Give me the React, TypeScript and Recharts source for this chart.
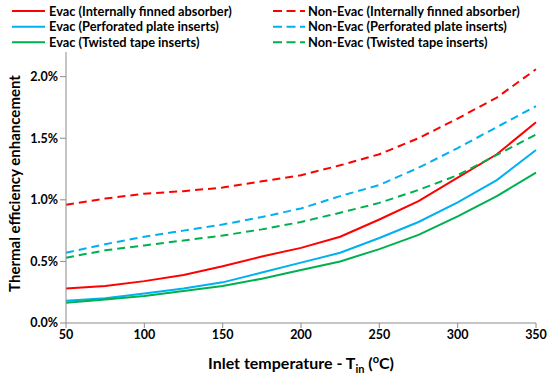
import React from 'react';
import { LineChart, Line, XAxis, YAxis, Label } from 'recharts';

const temperatures = [50, 75, 100, 125, 150, 175, 200, 225, 250, 275, 300, 325, 350];
const evacFinned = [0.28, 0.30, 0.34, 0.39, 0.46, 0.54, 0.61, 0.70, 0.84, 0.99, 1.18, 1.37, 1.63];
const evacPerforated = [0.18, 0.20, 0.24, 0.28, 0.33, 0.41, 0.49, 0.57, 0.69, 0.82, 0.98, 1.16, 1.405];
const evacTwisted = [0.165, 0.19, 0.22, 0.26, 0.30, 0.36, 0.43, 0.50, 0.60, 0.715, 0.865, 1.03, 1.22];
const nonEvacFinned = [0.96, 1.01, 1.05, 1.07, 1.10, 1.15, 1.20, 1.28, 1.37, 1.50, 1.66, 1.83, 2.06];
const nonEvacPerforated = [0.57, 0.64, 0.70, 0.75, 0.80, 0.86, 0.93, 1.03, 1.12, 1.26, 1.42, 1.59, 1.76];
const nonEvacTwisted = [0.53, 0.59, 0.63, 0.67, 0.71, 0.76, 0.82, 0.895, 0.975, 1.08, 1.20, 1.365, 1.53];

const xTicks = [50, 100, 150, 200, 250, 300, 350];
const yTicks = [0, 0.5, 1.0, 1.5, 2.0];

const RED = '#FF0000';
const BLUE = '#00B0F0';
const GREEN = '#00B050';
const FONT = 'Lato, "Open Sans", sans-serif';

const seriesDefs = [
  { key: 'ef', name: 'Evac (Internally finned absorber)', values: evacFinned, color: RED, dashed: false },
  { key: 'ep', name: 'Evac (Perforated plate inserts)', values: evacPerforated, color: BLUE, dashed: false },
  { key: 'et', name: 'Evac (Twisted tape inserts)', values: evacTwisted, color: GREEN, dashed: false },
  { key: 'nf', name: 'Non-Evac (Internally finned absorber)', values: nonEvacFinned, color: RED, dashed: true },
  { key: 'np', name: 'Non-Evac (Perforated plate inserts)', values: nonEvacPerforated, color: BLUE, dashed: true },
  { key: 'nt', name: 'Non-Evac (Twisted tape inserts)', values: nonEvacTwisted, color: GREEN, dashed: true },
];

const data = temperatures.map((t, i) => {
  const row: any = { t };
  seriesDefs.forEach((s) => { row[s.key] = s.values[i]; });
  return row;
});

const DASH = '8 5';

function LegendOverlay() {
  const cols = [
    { lineX1: 12, lineX2: 45, textX: 49, items: seriesDefs.slice(0, 3) },
    { lineX1: 273, lineX2: 305, textX: 308, items: seriesDefs.slice(3) },
  ];
  const rows = [11, 26.7, 42.3];
  return (
    <svg width={550} height={52} style={{ position: 'absolute', left: 0, top: 0 }}>
      {cols.map((c, ci) =>
        c.items.map((s, ri) => (
          <g key={`${ci}-${ri}`}>
            <line x1={c.lineX1} x2={c.lineX2} y1={rows[ri]} y2={rows[ri]} stroke={s.color} strokeWidth={2}
              strokeDasharray={s.dashed ? '9 4.5' : undefined} />
            <text x={c.textX} y={rows[ri] + 4.6} fontFamily={FONT} fontWeight={700} fontSize={12.8} fill="#000">{s.name}</text>
          </g>
        ))
      )}
    </svg>
  );
}

export default function App() {
  return (
    <div style={{ position: 'absolute', left: 0, top: 0, width: 550, height: 378, background: '#fff' }}>
      <LineChart width={550} height={378} data={data} margin={{ top: 52, right: 14, bottom: 0, left: 0 }}>
        <XAxis dataKey="t" type="number" domain={[50, 350]} ticks={xTicks} height={55}
          stroke="#8c8c8c" tickSize={5} interval={0}
          tick={{ fontFamily: FONT, fontWeight: 700, fontSize: 12.5, fill: '#000' }}>
          <Label content={(props: any) => {
            const vb = props.viewBox;
            const cx = vb.x + vb.width / 2;
            return (
              <text x={cx} y={369} textAnchor="middle" fontFamily={FONT} fontWeight={700} fontSize={16} fill="#000">
                Inlet temperature - T<tspan fontSize={11} dy={4}>in</tspan><tspan dy={-4}> (</tspan><tspan fontSize={11} dy={-6}>o</tspan><tspan dy={6}>C)</tspan>
              </text>
            );
          }} />
        </XAxis>
        <YAxis type="number" domain={[0, 2.2]} ticks={yTicks} width={66} stroke="#8c8c8c" tickSize={6}
          interval={0}
          tickFormatter={(v: number) => `${v.toFixed(1)}%`}
          tick={{ fontFamily: FONT, fontWeight: 700, fontSize: 12.5, fill: '#000' }}>
          <Label content={(props: any) => {
            const vb = props.viewBox;
            const cy = vb.y + vb.height / 2 - 4;
            const cx = 20;
            return (
              <text x={cx} y={cy} transform={`rotate(-90 ${cx} ${cy})`} textAnchor="middle" fontFamily={FONT}
                fontWeight={700} fontSize={15} fill="#000">Thermal efficiency enhancement</text>
            );
          }} />
        </YAxis>
        {seriesDefs.map((s) => (
          <Line key={s.key} dataKey={s.key} name={s.name} type="linear" stroke={s.color} strokeWidth={2}
            strokeDasharray={s.dashed ? DASH : undefined} dot={false} activeDot={false} isAnimationActive={false} />
        ))}
      </LineChart>
      <LegendOverlay />
    </div>
  );
}
